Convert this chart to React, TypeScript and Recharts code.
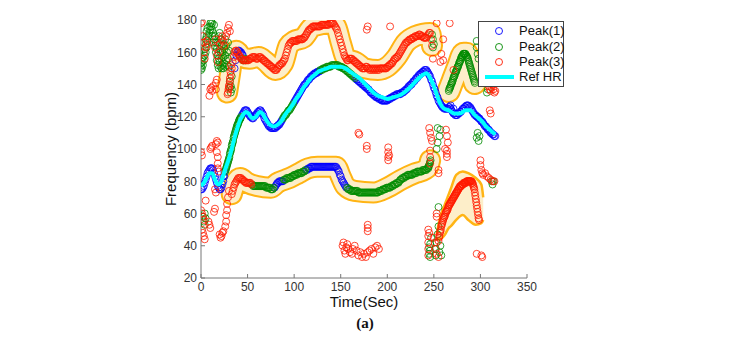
import { ComposedChart, Scatter, Line, Area, XAxis, YAxis } from "recharts";

// Ref HR (cyan line), [time sec, bpm]
const refHR = [
  [0, 77], [3, 79], [6, 82], [9, 85], [12, 85], [15, 81], [18, 78], [21, 79], [24, 84], [27, 89],
  [30, 94], [33, 100], [36, 107], [39, 113], [42, 118], [45, 121], [48, 123], [51, 122], [55, 119],
  [59, 120], [63, 123], [66, 122], [70, 118], [74, 115], [78, 114], [82, 115], [86, 117], [90, 121],
  [94, 124], [98, 127], [102, 131], [106, 134], [110, 138], [114, 141], [118, 144], [122, 146],
  [126, 148], [130, 149], [135, 150], [140, 151], [146, 151], [150, 151], [155, 150], [160, 148],
  [165, 146], [170, 144], [175, 141], [180, 138], [185, 135], [190, 133], [195, 132], [200, 131],
  [206, 132], [212, 133], [218, 135], [224, 138], [229, 141], [234, 144], [238, 146], [242, 147],
  [246, 144], [250, 139], [253, 134], [257, 128], [261, 125], [266, 124], [272, 122], [278, 122],
  [284, 124], [289, 124], [294, 121], [298, 119], [302, 117], [306, 114], [310, 112], [316, 109],
];

// continuous tracks sampled every `step` seconds from `start`
// Peak(1) – blue
const p1Early = { start: 0, step: 1, v: [75, 75, 76, 77, 79, 81, 83, 85, 86, 87, 88, 88, 88, 87, 85, 83, 81, 79, 77, 76, 75, 75, 76, 78, 80, 83] };
const p1A = { start: 44, step: 1, v: [121, 122, 123, 124, 124, 124, 123, 122, 121, 120, 120, 119, 119, 120, 121, 121, 122, 123, 123, 124, 124, 123, 122, 121, 119, 118, 117, 116, 115, 114, 114, 113, 113, 113, 113, 113, 113, 114, 114, 115, 115, 116, 117, 118] };
const p1B = { start: 100, step: 1, v: [129, 130, 131, 132, 133, 134, 135, 136, 137, 138, 139, 140, 140, 141, 142, 143, 143, 144, 145, 145, 146, 146, 147, 147, 147, 148, 148, 148] };
const p1C = { start: 166, step: 1, v: [144, 143, 143, 142, 142, 141, 141, 140, 140, 139, 139, 138, 138, 137, 137, 136, 135, 135, 134, 134, 133, 133, 132, 132, 132, 131, 131, 131, 130, 130, 130, 130, 130, 130, 130, 131, 131, 131, 132, 132, 132, 133, 133, 133, 134, 134, 134, 134, 134, 135, 135, 135, 136, 136, 137, 137, 138, 139, 139, 140, 140, 141, 142, 142, 143, 144, 144, 145, 146, 146, 147, 147, 148, 148, 149, 149, 149, 148, 147, 146, 145, 143, 142, 140, 138, 137, 135, 133, 132, 130, 129, 128, 127, 126, 126, 125, 125, 125, 125, 125, 126, 126, 125, 124, 123, 122, 122, 121, 121, 121, 122, 122, 123, 123, 124, 125, 125, 126, 126, 127, 127, 127, 126, 126, 125, 124, 123, 122, 121, 121, 120, 120, 119, 119, 118, 117, 117, 116, 115, 114, 114, 113, 112, 112, 111, 110, 110, 109, 109, 108, 108] };
const p1BandUpper = { start: 36, step: 1, v: [150, 155, 158, 160, 161, 161, 160, 160, 159, 158] };
const p1BandLowA = { start: 79, step: 1, v: [76, 77, 78, 79, 79, 80, 80, 80, 80, 80] };
const p1BandLowB = { start: 113, step: 1, v: [87, 87, 88, 88, 88, 89, 89, 89, 89, 89, 89, 89, 89, 89, 89, 89, 89, 89, 89, 89, 89, 89, 89, 89, 89, 89, 89, 89, 89, 89, 89, 89, 89, 88, 87, 86, 84, 83, 81, 80, 79, 78, 77, 76] };

// Peak(2) – green
const p2Rise = { start: 26, step: 0.5, v: [86, 87, 88, 89, 90, 91, 92, 93, 94, 95, 97, 98, 99, 100, 102, 103, 104, 105, 107, 108, 109, 110, 111, 112, 113, 114, 115, 115, 116, 117, 118, 118, 119, 119, 120] };
const p2A = { start: 88, step: 1, v: [119, 120, 121, 121, 122, 123, 124, 124, 125, 126, 127, 128] };
const p2B = { start: 128, step: 1, v: [149, 149, 149, 150, 150, 150, 150, 151, 151, 151, 151, 151, 152, 152, 152, 152, 152, 152, 152, 152, 151, 151, 151, 151, 150, 150, 150, 149, 149, 148, 148, 147, 147, 146, 146, 145, 145, 144] };
const p2BandLowA = { start: 55, step: 1, v: [78, 77, 77, 77, 77, 77, 77, 77, 77, 77, 77, 77, 77, 77, 77, 76, 76, 76, 76, 76, 75, 75, 75, 76] };
const p2BandLowB = { start: 89, step: 1, v: [81, 81, 81, 82, 82, 82, 82, 82, 83, 83, 83, 84, 84, 84, 84, 85, 85, 85, 85, 85, 86, 86, 86, 87] };
const p2BandLowC = { start: 157, step: 1, v: [76, 75, 75, 75, 74, 74, 74, 74, 74, 74, 74, 74, 73, 73, 73, 73, 73, 73, 73, 73, 73, 73, 73, 73, 73, 73, 73, 73, 73, 73, 73, 73, 73, 73, 74, 74, 74, 74, 75, 75, 75, 75, 76, 76, 76, 76, 76, 77, 77, 77, 78, 78, 78, 79, 79, 79, 80, 81, 81, 82, 82, 82, 83, 83, 83, 84, 84, 84, 84, 84, 84, 85, 85, 85, 85, 86, 86, 86, 86, 86, 86, 87, 87, 87, 87, 87, 88, 89] };
const p2BandLowTail = { start: 244, step: 0.5, v: [88, 89, 90, 91, 92, 93] };
const p2Hump = { start: 266, step: 0.5, v: [136, 137, 138, 138, 139, 140, 141, 141, 142, 143, 144, 145, 145, 146, 147, 148, 148, 149, 150, 151, 151, 152, 153, 154, 154, 155, 156, 157, 157, 158, 158, 159, 159, 159, 159, 159, 159, 158, 158, 157, 157, 156, 155, 154, 153, 152, 151, 150, 149, 148, 147, 146, 145, 144, 143, 142, 141] };

// Peak(3) – red
const p3Upper = { start: 30, step: 1, v: [138, 142, 146, 150, 154, 157, 160, 161, 161, 160, 159, 158, 157, 156, 156, 155, 155, 155, 155, 155, 155, 155, 156, 156, 156, 157, 157, 157, 157, 156, 156, 156, 157, 157, 157, 156, 156, 155, 155, 154, 154, 153, 153, 152, 152, 151, 151, 150, 150, 149, 149, 149, 150, 151, 152, 152, 153, 153, 154, 155, 156, 158, 160, 162, 164, 165, 166, 166, 167, 167, 167, 167, 167, 167, 168, 168, 168, 168, 168, 168, 169, 169, 170, 171, 172, 173, 174, 174, 175, 175, 176, 176, 176, 176, 176, 176, 176, 176, 176, 177, 177, 177, 177, 177, 177, 177, 177, 177, 178, 178, 178, 178, 178, 177, 176, 175, 174, 172, 170, 168, 166, 164, 162, 160, 158, 157, 156, 155, 155, 156, 156, 156, 156, 155, 155, 154, 154, 153, 153, 152, 152, 151, 151, 150, 150, 150, 150, 151, 151, 150, 150, 149, 150, 149, 150, 149, 150, 149, 150, 149, 150, 149, 150, 150, 150, 150, 150, 150, 150, 150, 151, 151, 152, 152, 153, 153, 154, 155, 156, 156, 157, 157, 158, 159, 160, 161, 162, 163, 164, 165, 166, 166, 167, 167, 168, 168, 168, 169, 169, 169, 170, 170, 170, 170, 171, 171, 170, 170, 170, 169, 169, 169, 169, 170, 171, 172, 172, 168, 164] };
const p3UpperRise = { start: 28.5, step: 0.5, v: [134, 135, 137, 139, 140, 144, 148, 152] };
const p3LowStart = { start: 33, step: 1, v: [72, 74, 76, 78, 79, 80, 81, 82, 82, 82, 82, 81, 81, 80, 80, 79, 79, 79, 79, 79, 79, 78] };
const p3RightTrack = { start: 255, step: 0.5, v: [43, 45, 46, 48, 49, 50, 52, 53, 54, 55, 56, 57, 58, 58, 59, 60, 61, 61, 62, 62, 63, 64, 65, 65, 66, 66, 67, 67, 68, 68, 69, 69, 70, 70, 71, 71, 72, 72, 73, 73, 74, 74, 75, 75, 76, 76, 77, 77, 77, 77, 78, 78, 78, 78, 79, 79, 79, 79, 79, 79, 80, 80, 80, 80, 80, 80, 80, 80, 80, 80, 80, 80, 79, 79, 78, 77, 76, 75, 73, 71, 69, 67, 65, 63, 61, 59, 57, 56] };

// scattered detections, [time sec, bpm]
const p1Scatter = [[24, 83], [25, 86], [271, 125], [268, 127]];
const p2Scatter = [
  [0, 149], [0, 151], [0, 153], [1, 150], [1, 154], [1, 156], [2, 152], [2, 157], [3, 155], [4, 158],
  [4, 162], [5, 160], [5, 165], [5, 168], [6, 163], [6, 170], [6, 173], [7, 167], [7, 175], [8, 170],
  [9, 172], [9, 176], [10, 174], [10, 178], [11, 179], [11, 176], [12, 178], [12, 174], [12, 170],
  [13, 166], [13, 172], [14, 177], [14, 168], [15, 164], [15, 170], [16, 160], [16, 166], [17, 155],
  [17, 162], [18, 152], [18, 158], [18, 166], [19, 150], [19, 156], [19, 170], [20, 154], [20, 162],
  [20, 172], [21, 151], [21, 160], [21, 168], [22, 150], [22, 156], [22, 164], [23, 152], [23, 160],
  [24, 150], [24, 157], [24, 165], [25, 153], [25, 162], [26, 151], [26, 158], [26, 168], [27, 155],
  [27, 164], [28, 152], [28, 160], [29, 156], [29, 166], [30, 151], [30, 161], [31, 138], [31, 142],
  [32, 135], [32, 139], [33, 137], [33, 145],
  [44, 156], [45, 155], [46, 155], [47, 156], [48, 155],
  [2, 58], [3, 55], [4, 60], [5, 57], [4, 53],
  [245, 35], [246, 33], [246, 37], [246, 41], [247, 45], [245, 39], [252, 34], [252, 38], [253, 42],
  [254, 47], [255, 52], [256, 36], [257, 40], [258, 34], [255, 64], [253, 100], [254, 104], [256, 108],
  [257, 112], [254, 113], [296, 107], [297, 110], [298, 105], [299, 108], [307, 135], [308, 137],
  [312, 80], [313, 78], [314, 80], [296, 167], [296, 163], [297, 159], [298, 156], [248, 171],
  [249, 168], [250, 165], [249, 163],
];
const p3Scatter = [
  [0, 178], [1, 179], [2, 170], [3, 166], [3, 160], [4, 156], [5, 163], [6, 167], [7, 165], [9, 133],
  [10, 137], [11, 138], [12, 136], [13, 139], [16, 141], [16, 137], [17, 143], [15, 163], [16, 168],
  [17, 158], [18, 154], [19, 160], [20, 165], [22, 168], [23, 170], [24, 167], [25, 164], [27, 170],
  [28, 172], [29, 175], [30, 177], [31, 173],
  [0, 98], [1, 96], [10, 100], [11, 101], [12, 102], [16, 103], [17, 105], [18, 104], [17, 98],
  [18, 95], [18, 91], [18, 88], [19, 86], [15, 75], [16, 73], [15, 63], [14, 61], [5, 68], [0, 62],
  [1, 60], [2, 58], [3, 56], [1, 50], [2, 48], [3, 46], [4, 44], [8, 55], [9, 53], [10, 51], [20, 47],
  [21, 45], [22, 46], [23, 48], [24, 49], [26, 52], [27, 55], [27, 59], [28, 62], [28, 66], [29, 70],
  [30, 74],
  [152, 40], [153, 42], [154, 37], [155, 35], [156, 39], [157, 41], [158, 38], [160, 36], [162, 35],
  [163, 38], [165, 40], [167, 37], [169, 34], [171, 36], [173, 33], [175, 35], [177, 33], [179, 36],
  [181, 37], [183, 38], [185, 35], [187, 39], [189, 40], [191, 38], [179, 49], [179, 51], [179, 53],
  [169, 110], [170, 109], [178, 102], [178, 100], [201, 101], [201, 98], [201, 95], [201, 93],
  [202, 96], [178, 174], [179, 176], [203, 176],
  [245, 113], [246, 110], [247, 107], [248, 105], [246, 99], [246, 95], [246, 91], [244, 50],
  [244, 46], [244, 42], [244, 38], [244, 34], [245, 48], [250, 45], [251, 42], [252, 38], [253, 35],
  [255, 33], [253, 60], [253, 58], [255, 87], [255, 85], [264, 99], [264, 97], [264, 95], [263, 112],
  [264, 108], [265, 104], [262, 100],
  [253, 178], [267, 178], [258, 159], [260, 155], [257, 154], [249, 156], [260, 168], [271, 149],
  [296, 35], [301, 34], [302, 33],
  [300, 93], [300, 90], [301, 87], [302, 85], [303, 84], [305, 85], [307, 83], [309, 82], [311, 81],
  [313, 80], [315, 80],
  [307, 143], [308, 141], [309, 139], [310, 137], [311, 136], [312, 138], [313, 140], [314, 137],
  [315, 135], [316, 136], [310, 124], [311, 122],
];

// highlighted (yellow) regions
const bandUpper = [
  [28, 135], [31, 146], [34, 157], [38, 161], [44, 157], [52, 156], [62, 157], [70, 154], [80, 149],
  [88, 153], [94, 164], [100, 167], [110, 169], [120, 176], [140, 178], [145, 176], [150, 166],
  [156, 156], [166, 154], [176, 150], [190, 149], [200, 151], [210, 157], [220, 166], [230, 170],
  [246, 172], [248, 164],
];
const bandLower = [
  [33, 72], [37, 79], [42, 82], [50, 79], [60, 77], [75, 76], [82, 79], [95, 82], [105, 85],
  [115, 88], [125, 89], [145, 89], [150, 83], [155, 77], [165, 74], [185, 73], [200, 76], [215, 81],
  [230, 85], [240, 87], [244, 89], [246, 93],
];
const bandGreen = [
  [266, 136], [270, 142], [276, 151], [282, 159], [285, 159], [289, 151], [294, 141],
];
// lower right region: [time, low, high]
const bandRight = [
  [253, 44, 47], [256, 44, 56], [262, 47, 66], [266, 51, 72], [268, 52, 75], [274, 56, 84],
  [281, 59, 86], [287, 56, 85], [295, 53, 82], [301, 54, 78], [303, 56, 70],
];

const xTicks = [0, 50, 100, 150, 200, 250, 300, 350];
const yTicks = [20, 40, 60, 80, 100, 120, 140, 160, 180];

const BLUE = "#0000ff";
const GREEN = "#008a00";
const RED = "#ff1a00";
const CYAN = "#00ffff";
const ORANGE = "#ffb414";
const PALE = "#fdeec9";
const FONT = "'Liberation Sans', Arial, sans-serif";

type Track = { start: number; step: number; v: number[] };
const pts = (a: number[][]) => a.map(([t, v]) => ({ t, v }));
const fromTracks = (tracks: Track[]) =>
  tracks.flatMap((tr) => tr.v.map((v, i) => ({ t: tr.start + i * tr.step, v })));

const peak1 = [...fromTracks([p1Early, p1A, p1B, p1C, p1BandUpper, p1BandLowA, p1BandLowB]), ...pts(p1Scatter)];
const peak2 = [...fromTracks([p2Rise, p2A, p2B, p2BandLowA, p2BandLowB, p2BandLowC, p2BandLowTail, p2Hump]), ...pts(p2Scatter)];
const peak3 = [...fromTracks([p3Upper, p3UpperRise, p3LowStart, p3RightTrack]), ...pts(p3Scatter)];

const ring = (color: string) => (p: any) =>
  p.cx == null ? <g /> : <circle cx={p.cx} cy={p.cy} r={3.5} fill="none" stroke={color} strokeWidth={0.8} />;

const tickStyle = { fill: "#333", fontSize: 12, fontFamily: FONT };

function LegendBox() {
  const rows = [
    { label: "Peak(1)", color: BLUE },
    { label: "Peak(2)", color: GREEN },
    { label: "Peak(3)", color: RED },
  ];
  return (
    <div
      style={{
        position: "absolute", left: 470, top: 13, width: 84, height: 64,
        background: "#fff", border: "1px solid #444", fontFamily: FONT, fontSize: 13, color: "#111",
      }}
    >
      {rows.map((r, i) => (
        <div key={r.label} style={{ position: "absolute", top: 1 + i * 15.5, left: 0, height: 15, display: "flex", alignItems: "center" }}>
          <svg width={40} height={15}>
            <circle cx={20} cy={8} r={3.5} fill="none" stroke={r.color} strokeWidth={0.9} />
          </svg>
          <span>{r.label}</span>
        </div>
      ))}
      <div style={{ position: "absolute", top: 47, left: 0, height: 15, display: "flex", alignItems: "center" }}>
        <svg width={40} height={15}>
          <line x1={6} x2={35} y1={8} y2={8} stroke={CYAN} strokeWidth={4} />
        </svg>
        <span>Ref HR</span>
      </div>
    </div>
  );
}

const bandLine = (data: number[][], color: string, w: number) => (
  <Line
    data={pts(data)} dataKey="v" type="monotone" stroke={color} strokeWidth={w}
    strokeLinecap="round" strokeLinejoin="round" dot={false} activeDot={false} isAnimationActive={false}
  />
);

export default function App() {
  return (
    <div style={{ position: "relative", width: 716, height: 324, fontFamily: FONT }}>
      <ComposedChart width={716} height={324} margin={{ top: 12, right: 197, bottom: 34, left: 0 }}>
        <XAxis
          dataKey="t" type="number" domain={[0, 350]} ticks={xTicks} allowDataOverflow
          height={20} tickSize={-4} tickMargin={8} stroke="#777" tick={tickStyle}
        />
        <XAxis xAxisId="top" orientation="top" type="number" domain={[0, 350]} ticks={xTicks} height={0} tickSize={-4} tick={false} stroke="#777" />
        <YAxis
          type="number" domain={[20, 180]} ticks={yTicks} allowDataOverflow
          width={193} tickSize={-4} tickMargin={8} stroke="#777" tick={tickStyle}
        />
        <YAxis yAxisId="right" orientation="right" type="number" domain={[20, 180]} ticks={yTicks} width={0} tickSize={-4} tick={false} stroke="#777" />

        {bandLine(bandUpper, ORANGE, 22)}
        {bandLine(bandLower, ORANGE, 22)}
        {bandLine(bandGreen, ORANGE, 24)}
        {bandLine(bandUpper, PALE, 18)}
        {bandLine(bandLower, PALE, 18)}
        {bandLine(bandGreen, PALE, 20)}
        <Area
          data={bandRight.map(([t, lo, hi]) => ({ t, r: [lo, hi] }))} dataKey="r" type="monotone"
          stroke={ORANGE} strokeWidth={2.5} fill={PALE} fillOpacity={1} activeDot={false} isAnimationActive={false}
        />

        <Scatter data={peak1} dataKey="v" shape={ring(BLUE)} isAnimationActive={false} />
        <Scatter data={peak2} dataKey="v" shape={ring(GREEN)} isAnimationActive={false} />
        <Scatter data={peak3} dataKey="v" shape={ring(RED)} isAnimationActive={false} />
        <Scatter
          data={pts(refHR)} dataKey="v" line={{ stroke: CYAN, strokeWidth: 4 }} lineJointType="monotoneX"
          shape={() => <g />} isAnimationActive={false}
        />
      </ComposedChart>

      <div style={{ position: "absolute", left: 162, top: 141, transform: "translate(-50%, -50%) rotate(-90deg)", fontSize: 15, color: "#111", whiteSpace: "nowrap" }}>
        Frequency (bpm)
      </div>
      <div style={{ position: "absolute", left: 356, top: 293, transform: "translate(-50%, -50%)", fontSize: 15, color: "#111", whiteSpace: "nowrap" }}>
        Time(Sec)
      </div>
      <div style={{ position: "absolute", left: 357, top: 315, transform: "translate(-50%, -50%)", fontSize: 15, fontWeight: "bold", fontFamily: "'Liberation Serif', 'Times New Roman', serif", color: "#111" }}>
        (a)
      </div>
      <LegendBox />
    </div>
  );
}
